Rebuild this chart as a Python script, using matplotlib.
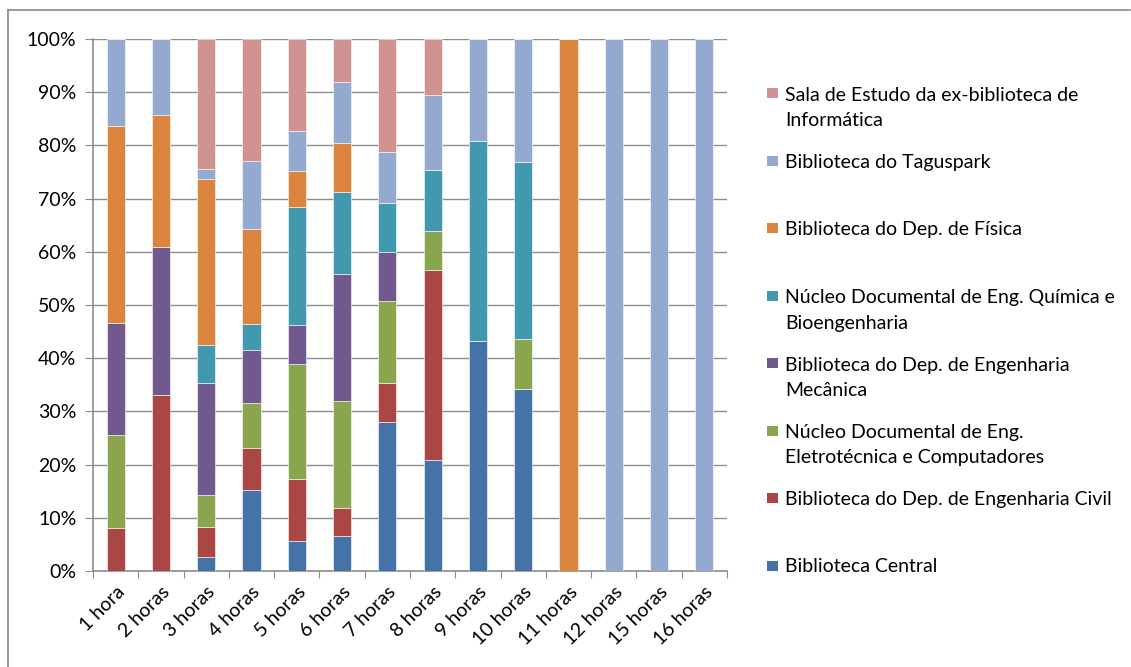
import matplotlib
matplotlib.use("Agg")
import matplotlib.pyplot as plt
from matplotlib.patches import Rectangle
from matplotlib.lines import Line2D
import numpy as np

categories = ["1 hora", "2 horas", "3 horas", "4 horas", "5 horas", "6 horas", "7 horas",
              "8 horas", "9 horas", "10 horas", "11 horas", "12 horas", "15 horas", "16 horas"]

series_names = [
    "Biblioteca Central",
    "Biblioteca do Dep. de Engenharia Civil",
    "Núcleo Documental de Eng.\nEletrotécnica e Computadores",
    "Biblioteca do Dep. de Engenharia\nMecânica",
    "Núcleo Documental de Eng. Química e\nBioengenharia",
    "Biblioteca do Dep. de Física",
    "Biblioteca do Taguspark",
    "Sala de Estudo da ex-biblioteca de\nInformática",
]

biblioteca_central = [0, 0, 2.7, 15.3, 5.6, 6.5, 28.1, 20.8, 43.2, 34.2, 0, 0, 0, 0]
eng_civil          = [8.05, 33.0, 5.6, 7.9, 11.6, 5.4, 7.3, 35.7, 0, 0, 0, 0, 0, 0]
eletrotecnica      = [17.55, 0, 5.9, 8.3, 21.7, 20.0, 15.3, 7.5, 0, 9.4, 0, 0, 0, 0]
eng_mecanica       = [21.0, 27.9, 21.2, 10.1, 7.4, 24.0, 9.2, 0, 0, 0, 0, 0, 0, 0]
eng_quimica        = [0, 0, 7.1, 4.9, 22.2, 15.4, 9.3, 11.4, 37.6, 33.3, 0, 0, 0, 0]
fisica             = [37.0, 24.9, 31.1, 17.7, 6.6, 9.2, 0, 0, 0, 0, 100, 0, 0, 0]
taguspark          = [16.4, 14.2, 1.9, 12.8, 7.7, 11.4, 9.5, 14.1, 19.2, 23.1, 0, 100, 100, 100]
sala_informatica   = [0, 0, 24.5, 23.0, 17.2, 8.1, 21.3, 10.5, 0, 0, 0, 0, 0, 0]

series = [biblioteca_central, eng_civil, eletrotecnica, eng_mecanica,
          eng_quimica, fisica, taguspark, sala_informatica]
colors = ["#4572A7", "#AA4643", "#89A54E", "#71588F", "#4198AF", "#DB843D", "#93A9CF", "#D19392"]

W, H = 1131, 667
fig = plt.figure(figsize=(W / 100, H / 100), dpi=100)
plt.rcParams['font.family'] = ['Lato', 'DejaVu Sans']
FS = 14

# outer chart border (left and top visible)
fig.add_artist(Line2D([8 / W, 8 / W], [0, 1 - 10 / H], color="#868686", lw=1.2))
fig.add_artist(Line2D([8 / W, 1130 / W], [1 - 10 / H, 1 - 10 / H], color="#868686", lw=1.2))

ax = fig.add_axes([93 / W, (H - 571) / H, (727 - 93) / W, (571 - 39) / H])

data = np.array(series, dtype=float)
totals = data.sum(axis=0)
pct = data / totals * 100
x = np.arange(len(categories))
bottom = np.zeros(len(categories))
for vals, col in zip(pct, colors):
    ax.bar(x, vals, bottom=bottom, width=0.4, color=col, edgecolor="white", linewidth=0.4, zorder=3)
    bottom += vals

ax.set_xlim(-0.5, len(categories) - 0.5)
ax.set_ylim(0, 100)
ax.set_yticks(np.arange(0, 101, 10))
ax.set_yticklabels([f"{v}%" for v in range(0, 101, 10)], fontsize=FS)
ax.yaxis.grid(True, color="#8c8c8c", linewidth=1.0, zorder=0)
ax.set_axisbelow(True)

ax.set_xticks(np.arange(-0.5, len(categories), 1.0))
ax.set_xticklabels([])
ax.set_xticks(x, minor=True)
ax.set_xticklabels(categories, minor=True, rotation=45, ha="right", va="top",
                   rotation_mode="anchor", fontsize=FS)
ax.tick_params(axis="x", which="minor", length=0, pad=9)
ax.tick_params(axis="x", which="major", length=5, color="#8c8c8c", direction="out")
ax.tick_params(axis="y", length=6, color="#8c8c8c", direction="out", pad=6)

for s in ["top", "right"]:
    ax.spines[s].set_visible(False)
for s in ["left", "bottom"]:
    ax.spines[s].set_color("#8c8c8c")
    ax.spines[s].set_linewidth(1.2)

# legend (reverse order, evenly spaced slots)
y0 = 93
step = 67.5
line_h = 26
for i, (name, col) in enumerate(zip(series_names[::-1], colors[::-1])):
    yc = y0 + i * step
    nlines = name.count("\n") + 1
    fig.add_artist(Rectangle((767 / W, 1 - (yc + 5) / H), 11 / W, 10 / H,
                             facecolor=col, edgecolor="none", transform=fig.transFigure))
    fig.text(785 / W, 1 - (yc + 7 + (nlines - 1) * line_h) / H, name, fontsize=FS,
             va="baseline", ha="left", linespacing=1.6)

fig.savefig("out.png", dpi=100)
